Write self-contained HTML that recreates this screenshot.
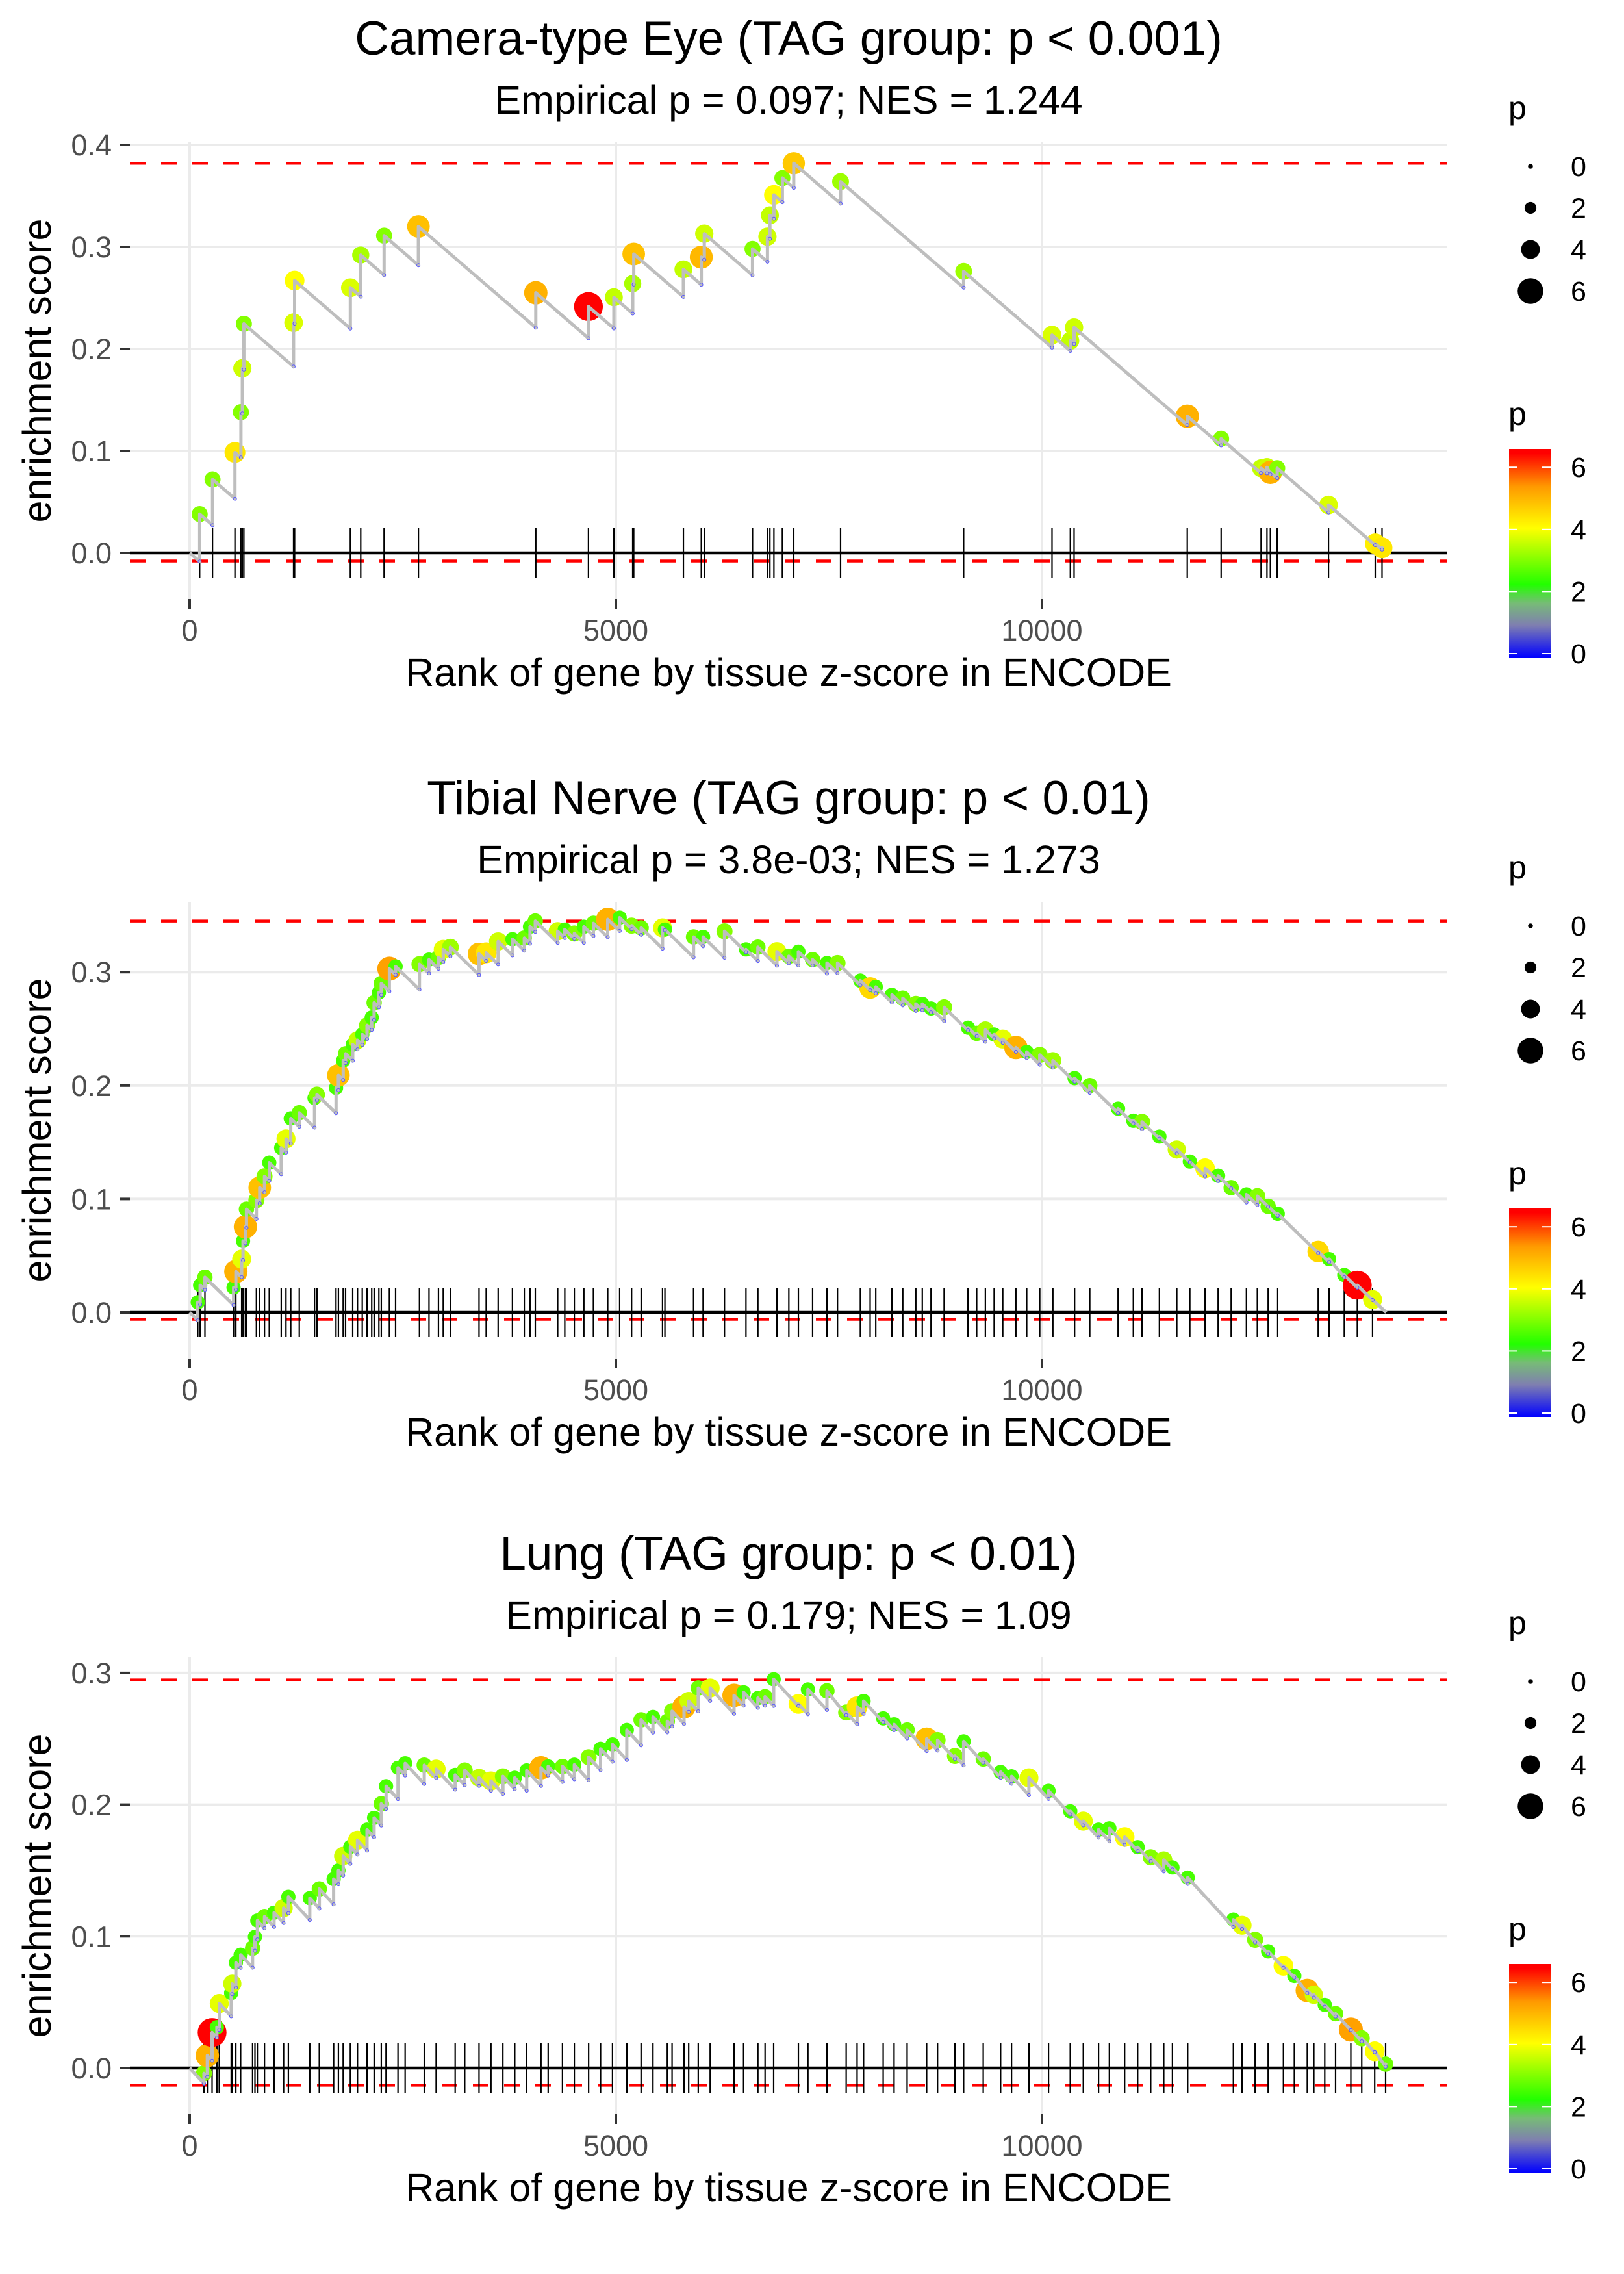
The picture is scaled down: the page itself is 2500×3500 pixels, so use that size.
<!DOCTYPE html>
<html><head><meta charset="utf-8"><title>Enrichment plots</title>
<style>
html,body{margin:0;padding:0;background:#fff;}
svg{display:block;font-family:"Liberation Sans",Arial,sans-serif;}
</style></head>
<body>
<svg id="chart" xmlns="http://www.w3.org/2000/svg" width="2500" height="3500" viewBox="0 0 2500 3500">
<defs>
<linearGradient id="pgrad" x1="0" y1="1" x2="0" y2="0">
<stop offset="0" stop-color="#0000ff"/>
<stop offset="0.155" stop-color="#7f7fb0"/>
<stop offset="0.26" stop-color="#77bb77"/>
<stop offset="0.35" stop-color="#22ff00"/>
<stop offset="0.62" stop-color="#ffff00"/>
<stop offset="0.82" stop-color="#ff9900"/>
<stop offset="0.98" stop-color="#ff0000"/>
<stop offset="1" stop-color="#ff0000"/>
</linearGradient>
</defs>
</svg>
<script>
// ---------- data ----------
const p1Ranks=[117,268,531,601,618,636,1219,1231,1885,2007,2281,2684,4061,4679,4977,5198,5210,5793,6003,6038,6604,6779,6808,6855,6954,7088,7637,9081,10118,10333,10377,11705,12102,12571,12640,12680,12760,13362,13910,13990];
const p1Es=[0.038,0.072,0.0985,0.138,0.181,0.2246,0.2257,0.267,0.260,0.292,0.311,0.320,0.255,0.2415,0.2506,0.264,0.293,0.278,0.290,0.313,0.298,0.310,0.331,0.351,0.3675,0.382,0.364,0.276,0.2136,0.208,0.221,0.134,0.112,0.083,0.084,0.079,0.083,0.047,0.009,0.005];
const p1P=[3,3,4.3,3,3.6,3,3.7,4,3.7,3.3,3,4.8,5,6.5,3.5,3.3,4.8,3.5,4.9,3.6,3,3.6,3.5,4,3,4.7,3.2,3.2,3.7,3.5,3.6,5,3,3.5,3.6,5,3,3.7,4.2,4.3];

const p2Ranks=[95,123,179,515,542,610,626,654,666,783,822,878,934,1074,1130,1186,1286,1465,1493,1717,1745,1801,1829,1913,1969,2025,2081,2136,2164,2220,2248,2343,2416,2696,2808,2919,2975,3059,3395,3479,3619,3787,3926,3993,4055,4318,4401,4513,4625,4737,4905,5045,5185,5297,5548,5576,5912,6024,6275,6527,6667,6890,7030,7142,7309,7477,7601,7869,7984,8050,8239,8367,8520,8596,8698,8852,9132,9234,9336,9439,9540,9694,9821,9974,10128,10383,10561,10893,11072,11174,11378,11582,11735,11914,12067,12220,12399,12527,12654,12766,13241,13369,13547,13700,13879];
const p2Es=[0.009,0.024,0.031,0.022,0.036,0.047,0.063,0.0755,0.091,0.099,0.110,0.120,0.132,0.145,0.153,0.171,0.176,0.189,0.192,0.198,0.209,0.222,0.228,0.236,0.240,0.245,0.253,0.260,0.273,0.282,0.290,0.303,0.305,0.307,0.311,0.313,0.320,0.322,0.316,0.317,0.327,0.329,0.330,0.340,0.345,0.336,0.3375,0.334,0.340,0.343,0.3465,0.348,0.341,0.339,0.339,0.3375,0.331,0.331,0.336,0.320,0.322,0.318,0.314,0.318,0.311,0.308,0.308,0.2925,0.286,0.287,0.280,0.277,0.272,0.272,0.268,0.269,0.251,0.246,0.249,0.245,0.241,0.2335,0.2296,0.227,0.222,0.2065,0.200,0.1796,0.169,0.168,0.155,0.1436,0.133,0.127,0.1205,0.110,0.104,0.1025,0.0935,0.087,0.0537,0.047,0.033,0.024,0.0113];
const p2P=[2.5,2.5,2.8,2.5,5,3.8,2.5,5,2.8,3,4.8,3,2.5,2.5,3.8,2.5,2.8,2.5,3,2.5,4.8,2.5,2.8,2.5,3.5,2.5,3,2.5,2.8,2.5,2.8,5.2,2.5,3,2.5,2.8,3.8,3.2,4.8,4.3,3.6,2.5,2.8,2.5,2.8,3.6,2.5,3,2.5,2.8,5,2.5,3,2.8,3.8,2.5,2.8,2.5,3,2.5,2.8,3.8,2.8,2.5,2.8,2.5,3,2.5,4.5,2.5,2.5,2.8,3,2.5,2.5,3,2.5,2.8,3.3,2.5,3.8,5,2.5,3,3.2,2.5,2.8,2.5,2.5,3,2.5,3.6,2.5,4,2.5,2.8,2.5,3,2.8,2.5,4.5,2.5,2.5,6.5,3.8];

const p3Ranks=[168,207,263,319,347,487,500,542,598,738,766,794,878,990,1102,1158,1409,1521,1689,1745,1801,1885,1969,2081,2164,2248,2304,2444,2528,2752,2892,3115,3227,3395,3535,3675,3814,3954,4122,4206,4374,4513,4681,4821,4961,5129,5296,5436,5604,5660,5800,5855,5967,6107,6387,6499,6667,6751,6852,7142,7254,7477,7703,7831,7907,8137,8265,8418,8647,8775,8979,9081,9311,9515,9643,9847,10077,10332,10485,10664,10791,10970,11123,11276,11429,11531,11710,12246,12348,12501,12654,12833,12961,13113,13190,13318,13445,13624,13752,13904,14032];
const p3Es=[-0.004,0.0095,0.027,0.031,0.049,0.057,0.064,0.080,0.086,0.091,0.0996,0.112,0.115,0.118,0.1215,0.130,0.129,0.136,0.1435,0.150,0.161,0.168,0.173,0.181,0.190,0.2007,0.214,0.228,0.2314,0.230,0.227,0.2226,0.226,0.2204,0.218,0.2215,0.2204,0.226,0.228,0.229,0.229,0.2303,0.236,0.2424,0.2457,0.2567,0.2644,0.2666,0.2633,0.271,0.2743,0.2787,0.2886,0.2886,0.283,0.2853,0.281,0.282,0.2952,0.2765,0.2875,0.2864,0.270,0.2743,0.2787,0.2655,0.261,0.2567,0.250,0.249,0.237,0.248,0.2347,0.2248,0.2215,0.2204,0.2105,0.195,0.1875,0.181,0.182,0.1754,0.1677,0.160,0.158,0.1523,0.1446,0.1127,0.1084,0.0974,0.0886,0.0776,0.070,0.0589,0.0556,0.048,0.0413,0.0292,0.0226,0.0127,0.003];
const p3P=[3,5,6.5,2.5,3.8,2.5,3.6,2.5,2.5,2.8,2.5,2.5,2.8,2.5,3.6,2.5,2.5,2.8,2.5,2.5,3.6,2.5,3.8,2.5,2.5,2.8,2.5,2.5,2.5,2.8,3.8,2.5,3,3.5,3.8,3,2.5,2.5,5,2.5,2.8,2.5,3,2.5,2.5,2.5,2.8,2.5,2.8,3,5,3.6,2.8,3.8,5,2.5,2.5,2.8,2.5,4,2.5,2.8,3,4.3,2.5,2.5,2.5,2.8,4.8,3,3,2.5,2.8,2.5,2.5,3.8,2.5,2.5,3.8,2.5,2.5,4,2.5,3,3.3,2.5,2.5,2.5,3.8,3,2.5,4,2.5,5,3.6,2.5,2.8,5.2,3,4,2.8];

const yTicks1=[0,0.1,0.2,0.3,0.4];
const yTicks23=[0,0.1,0.2,0.3];
const xTicks=[0,5000,10000];
const sizeLegendValues=[0,2,4,6];
const colorLegendValues=[0,2,4,6];
const titles=["Camera-type Eye (TAG group: p < 0.001)","Tibial Nerve (TAG group: p < 0.01)","Lung (TAG group: p < 0.01)"];
const subtitles=["Empirical p = 0.097; NES = 1.244","Empirical p = 3.8e-03; NES = 1.273","Empirical p = 0.179; NES = 1.09"];
const maxLines=[0.382,0.345,0.2947];
const minLines=[-0.008,-0.006,-0.013];
const slopes=[7.2e-5,7.3e-5,7.0e-5];
const nGenes=[14000,14040,14040];

// ---------- layout ----------
const NS="http://www.w3.org/2000/svg";
const svg=document.getElementById('chart');
function mk(tag,attrs,parent){const e=document.createElementNS(NS,tag);for(const k in attrs)e.setAttribute(k,attrs[k]);(parent||svg).appendChild(e);return e;}
const PL=200,PR=2228;
function X(r){return 292+r*656/5000;}
const panels=[
 {off:0,zero:851,unit:1570,yt:yTicks1,ranks:p1Ranks,es:p1Es,p:p1P},
 {off:1169,zero:2020,unit:1746,yt:yTicks23,ranks:p2Ranks,es:p2Es,p:p2P},
 {off:2332,zero:3183,unit:2027,yt:yTicks23,ranks:p3Ranks,es:p3Es,p:p3P}
];
const cstops=[[0,[0,0,255]],[0.9,[127,127,176]],[1.6,[119,187,119]],[2.2,[34,255,0]],[4,[255,255,0]],[5.3,[255,153,0]],[6.4,[255,0,0]]];
function pcol(p){
 if(p<=cstops[0][0])return 'rgb(0,0,255)';
 for(let i=1;i<cstops.length;i++){if(p<=cstops[i][0]){const a=cstops[i-1],b=cstops[i];const t=(p-a[0])/(b[0]-a[0]);const c=a[1].map((v,j)=>Math.round(v+(b[1][j]-v)*t));return 'rgb('+c.join(',')+')';}}
 return 'rgb(255,0,0)';
}
function prad(p){return 4+2.8*p;}

panels.forEach((P,pi)=>{
 const g=mk('g',{});
 
 
 const top=219+P.off,bot=922+P.off;
 const Y=v=>P.zero-v*P.unit;
 const t=mk('text',{x:1214,y:84+P.off,'text-anchor':'middle','font-size':73,fill:'#000'},g);t.textContent=titles[pi];
 
 
 const st=mk('text',{x:1214,y:175+P.off,'text-anchor':'middle','font-size':61,fill:'#000'},g);st.textContent=subtitles[pi];
 
 
 P.yt.forEach(v=>{
  const l=mk('line',{x1:PL,x2:PR,y1:Y(v),y2:Y(v),stroke:'#ebebeb','stroke-width':4},g);
  
  
  const tk=mk('line',{x1:184,x2:200,y1:Y(v),y2:Y(v),stroke:'#333','stroke-width':4},g);
  
  
  const lb=mk('text',{x:172,y:Y(v)+16,'text-anchor':'end','font-size':45,fill:'#4d4d4d'},g);lb.textContent=v.toFixed(1);
  
  
 });
 xTicks.forEach(r=>{
  const l=mk('line',{x1:X(r),x2:X(r),y1:top,y2:bot,stroke:'#ebebeb','stroke-width':4},g);
  
  
  const tk=mk('line',{x1:X(r),x2:X(r),y1:bot,y2:bot+15,stroke:'#333','stroke-width':4},g);
  
  
  const lb=mk('text',{x:X(r),y:986+P.off,'text-anchor':'middle','font-size':45,fill:'#4d4d4d'},g);lb.textContent=String(r);
  
  
 });
 const xt=mk('text',{x:1214,y:1056+P.off,'text-anchor':'middle','font-size':61,fill:'#000'},g);xt.textContent='Rank of gene by tissue z-score in ENCODE';
 
 
 const cy=(top+bot)/2;
 const yt=mk('text',{x:78,y:cy,'text-anchor':'middle','font-size':61,fill:'#000',transform:'rotate(-90 78 '+cy+')'},g);yt.textContent='enrichment score';
 
 
 [maxLines[pi],minLines[pi]].forEach((v,k)=>{
  const l=mk('line',{x1:PL,x2:PR,y1:Y(v),y2:Y(v),stroke:'#ff0000','stroke-width':4.5,'stroke-dasharray':'24 24'},g);
  
  
 });
 const z=mk('line',{x1:PL,x2:PR,y1:Y(0),y2:Y(0),stroke:'#000','stroke-width':4.5},g);
 
 
 P.ranks.forEach(r=>{
  const l=mk('line',{x1:X(r),x2:X(r),y1:Y(0)-38,y2:Y(0)+38,stroke:'#000','stroke-width':2.2},g);
  
  
 });
 let prevR=0,prevE=0;const bots=[];let d='M'+X(0)+','+Y(0);
 P.ranks.forEach((r,i)=>{
  let b=prevE-slopes[pi]*(r-prevR);
  if(b>P.es[i])b=P.es[i]-0.002;
  bots.push(b);
  d+=' L'+X(r).toFixed(1)+','+Y(b).toFixed(1)+' L'+X(r).toFixed(1)+','+Y(P.es[i]).toFixed(1);
  prevR=r;prevE=P.es[i];
 });
 const endE=Math.max(0,prevE-slopes[pi]*(nGenes[pi]-prevR));
 d+=' L'+X(Math.max(nGenes[pi],prevR)).toFixed(1)+','+Y(endE).toFixed(1);
 P.ranks.forEach((r,i)=>{
  const c=mk('circle',{cx:X(r),cy:Y(P.es[i]),r:prad(P.p[i]),fill:pcol(P.p[i])},g);
  
  
 });
 const path=mk('path',{d:d,fill:'none',stroke:'#bebebe','stroke-width':5,'stroke-linejoin':'round'},g);
 
 
 P.ranks.forEach((r,i)=>{
  const c=mk('circle',{cx:X(r),cy:Y(bots[i]),r:2.5,fill:'none',stroke:'#5555ff','stroke-width':1},g);
  
  
 });
 const lg=mk('g',{},g);
 
 
 const lt=mk('text',{x:2322,y:183+P.off,'font-size':50,fill:'#000'},lg);lt.textContent='p';
 
 
 sizeLegendValues.forEach((v,k)=>{
  const yy=256+k*64+P.off;
  const c=mk('circle',{cx:2356,cy:yy,r:prad(v)*0.95,fill:'#000'},lg);
  
  
  const tx=mk('text',{x:2418,y:yy+15,'font-size':43,fill:'#000'},lg);tx.textContent=String(v);
  
  
 });
 const cg=mk('g',{},g);
 
 
 const ct=mk('text',{x:2322,y:654+P.off,'font-size':50,fill:'#000'},cg);ct.textContent='p';
 
 
 const bar=mk('rect',{x:2323,y:691+P.off,width:64,height:321,fill:'url(#pgrad)'},cg);
 
 
 colorLegendValues.forEach(v=>{
  const yy=1006-v*47.8+P.off;
  mk('line',{x1:2323,x2:2336,y1:yy,y2:yy,stroke:'#fff','stroke-width':2},cg);
  mk('line',{x1:2374,x2:2387,y1:yy,y2:yy,stroke:'#fff','stroke-width':2},cg);
  const tx=mk('text',{x:2418,y:yy+15,'font-size':43,fill:'#000'},cg);tx.textContent=String(v);
  
  
 });
});
</script>
</body></html>
